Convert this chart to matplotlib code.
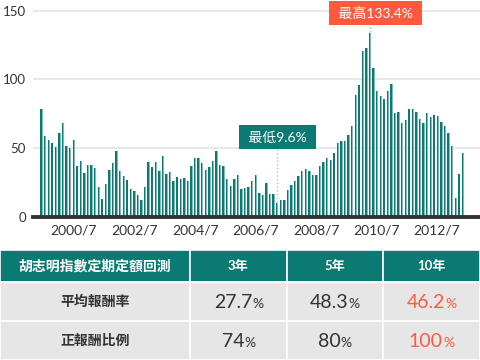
import matplotlib.pyplot as plt
from matplotlib.patches import Rectangle

plt.rcParams['font.family'] = ['Lato', 'Noto Sans CJK TC', 'DejaVu Sans']

# 胡志明指數 報酬率 (%)
values = [78.2, 58.5, 55.8, 53.4, 50.7, 60.9, 68.0, 51.2, 50.0, 55.6,
          36.6, 40.2, 31.5, 37.6, 37.8, 35.1, 21.8, 12.5, 23.7, 34.2,
          38.8, 47.6, 33.0, 29.8, 26.4, 20.0, 18.4, 15.9, 11.8, 21.2,
          39.5, 36.1, 39.5, 33.2, 43.9, 31.2, 32.2, 25.7, 28.6, 27.6,
          28.1, 25.7, 36.6, 42.4, 42.4, 38.8, 33.9, 36.4, 40.2, 47.6,
          37.8, 36.8, 27.6, 22.0, 27.3, 30.0, 20.0, 21.0, 21.8, 25.9,
          30.5, 17.4, 15.9, 24.4, 16.7, 16.7, 9.6, 11.8, 11.8, 19.3,
          23.2, 25.7, 29.3, 33.4, 34.9, 33.0, 30.5, 30.2, 36.6, 40.0,
          42.9, 41.2, 46.1, 53.9, 54.8, 55.3, 59.2, 65.8, 88.9, 95.5,
          120.8, 122.5, 133.4, 107.9, 91.3, 87.7, 85.7, 91.3, 96.5, 75.3,
          76.5, 68.2, 70.0, 78.7, 78.7, 76.5, 70.9, 68.2, 75.3, 72.4,
          74.3, 73.3, 68.7, 65.8, 60.7, 51.2, 13.5, 30.8, 46.6]
tick_labels = ['2000/7', '2002/7', '2004/7', '2006/7', '2008/7', '2010/7', '2012/7']
tick_pos = [8.85, 26.0, 43.0, 60.0, 76.9, 93.8, 110.6]

table_title = '胡志明指數定期定額回測'
periods = ['3年', '5年', '10年']
row_names = ['平均報酬率', '正報酬比例']
avg_return = ['27.7', '48.3', '46.2']
positive_ratio = ['74', '80', '100']

teal = '#0b7a73'
red = '#ff5a3d'
dark = '#333333'

fig = plt.figure(figsize=(4.8, 3.6), dpi=100)
ax = fig.add_axes([33 / 480, 1 - 216.5 / 360, 1 - 33 / 480, 216.5 / 360])

x = list(range(len(values)))
ax.bar([i - 0.12 for i in x], values, width=0.42, color=teal, zorder=2)
ax.bar([i + 0.2 for i in x], values, width=0.25, color='#7fbdb8', zorder=2)

ax.set_xlim(-2.4, 122.8)
ax.set_ylim(0, 157.8)
ax.set_yticks([0, 50, 100, 150])
ax.yaxis.grid(True, color='#e8e8e8', lw=1.5, zorder=0)
ax.set_xticks(tick_pos)
ax.set_xticklabels(tick_labels)
ax.tick_params(length=0, labelsize=10, colors=dark)
ax.tick_params(axis='y', pad=5, labelsize=9.5)
ax.tick_params(axis='x', pad=6)
for s in ['top', 'right', 'left']:
    ax.spines[s].set_visible(False)
ax.spines['bottom'].set_color(dark)
ax.spines['bottom'].set_linewidth(2.8)

# 最高 / 最低 標示
i_max = values.index(max(values))
i_min = values.index(min(values))
ax.plot([i_max, i_max], [values[i_max] + 1, 140], ls=':', color='#bbbbbb', lw=1, zorder=1)
ax.text(i_max + 1.5, 148.2, ' 最高%.1f%% ' % values[i_max], color='white', fontsize=10,
        ha='center', va='center', zorder=4,
        bbox=dict(boxstyle='square,pad=0.42', fc=red, ec='none'))
ax.plot([i_min, i_min], [values[i_min] + 1, 50], ls=':', color='#bbbbbb', lw=1, zorder=1)
ax.text(i_min, 57.7, ' 最低%.1f%% ' % values[i_min], color='white', fontsize=10,
        ha='center', va='center', zorder=4,
        bbox=dict(boxstyle='square,pad=0.42', fc=teal, ec='none'))

# 表格
tax = fig.add_axes([0, 0, 1, 110 / 360])
tax.set_xlim(0, 480)
tax.set_ylim(360, 250)
tax.axis('off')

col_edges = [0, 190, 287, 383, 480]
row_edges = [250, 282, 321, 360]
for r in range(3):
    for c in range(4):
        fc = teal if r == 0 else '#e6e6e6'
        tax.add_patch(Rectangle((col_edges[c], row_edges[r]),
                                col_edges[c + 1] - col_edges[c], row_edges[r + 1] - row_edges[r],
                                fc=fc, ec='white', lw=1.2))


def cx(c):
    return (col_edges[c] + col_edges[c + 1]) / 2


def cy(r):
    return (row_edges[r] + row_edges[r + 1]) / 2


tax.text(cx(0), cy(0), table_title, color='white', fontsize=10, fontweight='bold',
         ha='center', va='center')
for c, p in enumerate(periods):
    tax.text(cx(c + 1), cy(0), p, color='white', fontsize=9.5, fontweight='bold',
             ha='center', va='center')
for r, name in enumerate(row_names):
    tax.text(cx(0), cy(r + 1), name, color=dark, fontsize=10, fontweight='bold',
             ha='center', va='center')

fig.canvas.draw()
renderer = fig.canvas.get_renderer()
for r, row in enumerate([avg_return, positive_ratio]):
    for c, v in enumerate(row):
        color = red if c == 2 else dark
        t1 = tax.text(0, cy(r + 1) + 1, v, color=color, fontsize=14, ha='left', va='center')
        t2 = tax.text(0, cy(r + 1) + 1, '%', color=color, fontsize=10, ha='left', va='center')
        bb1 = t1.get_window_extent(renderer)
        bb2 = t2.get_window_extent(renderer)
        w = (bb1.width + bb2.width) * 480 / fig.bbox.width
        w1 = bb1.width * 480 / fig.bbox.width
        x0 = cx(c + 1) - w / 2
        t1.set_x(x0)
        t2.set_x(x0 + w1)
        t2.set_y(cy(r + 1) + 2.5)

fig.savefig('out.png', dpi=100)
